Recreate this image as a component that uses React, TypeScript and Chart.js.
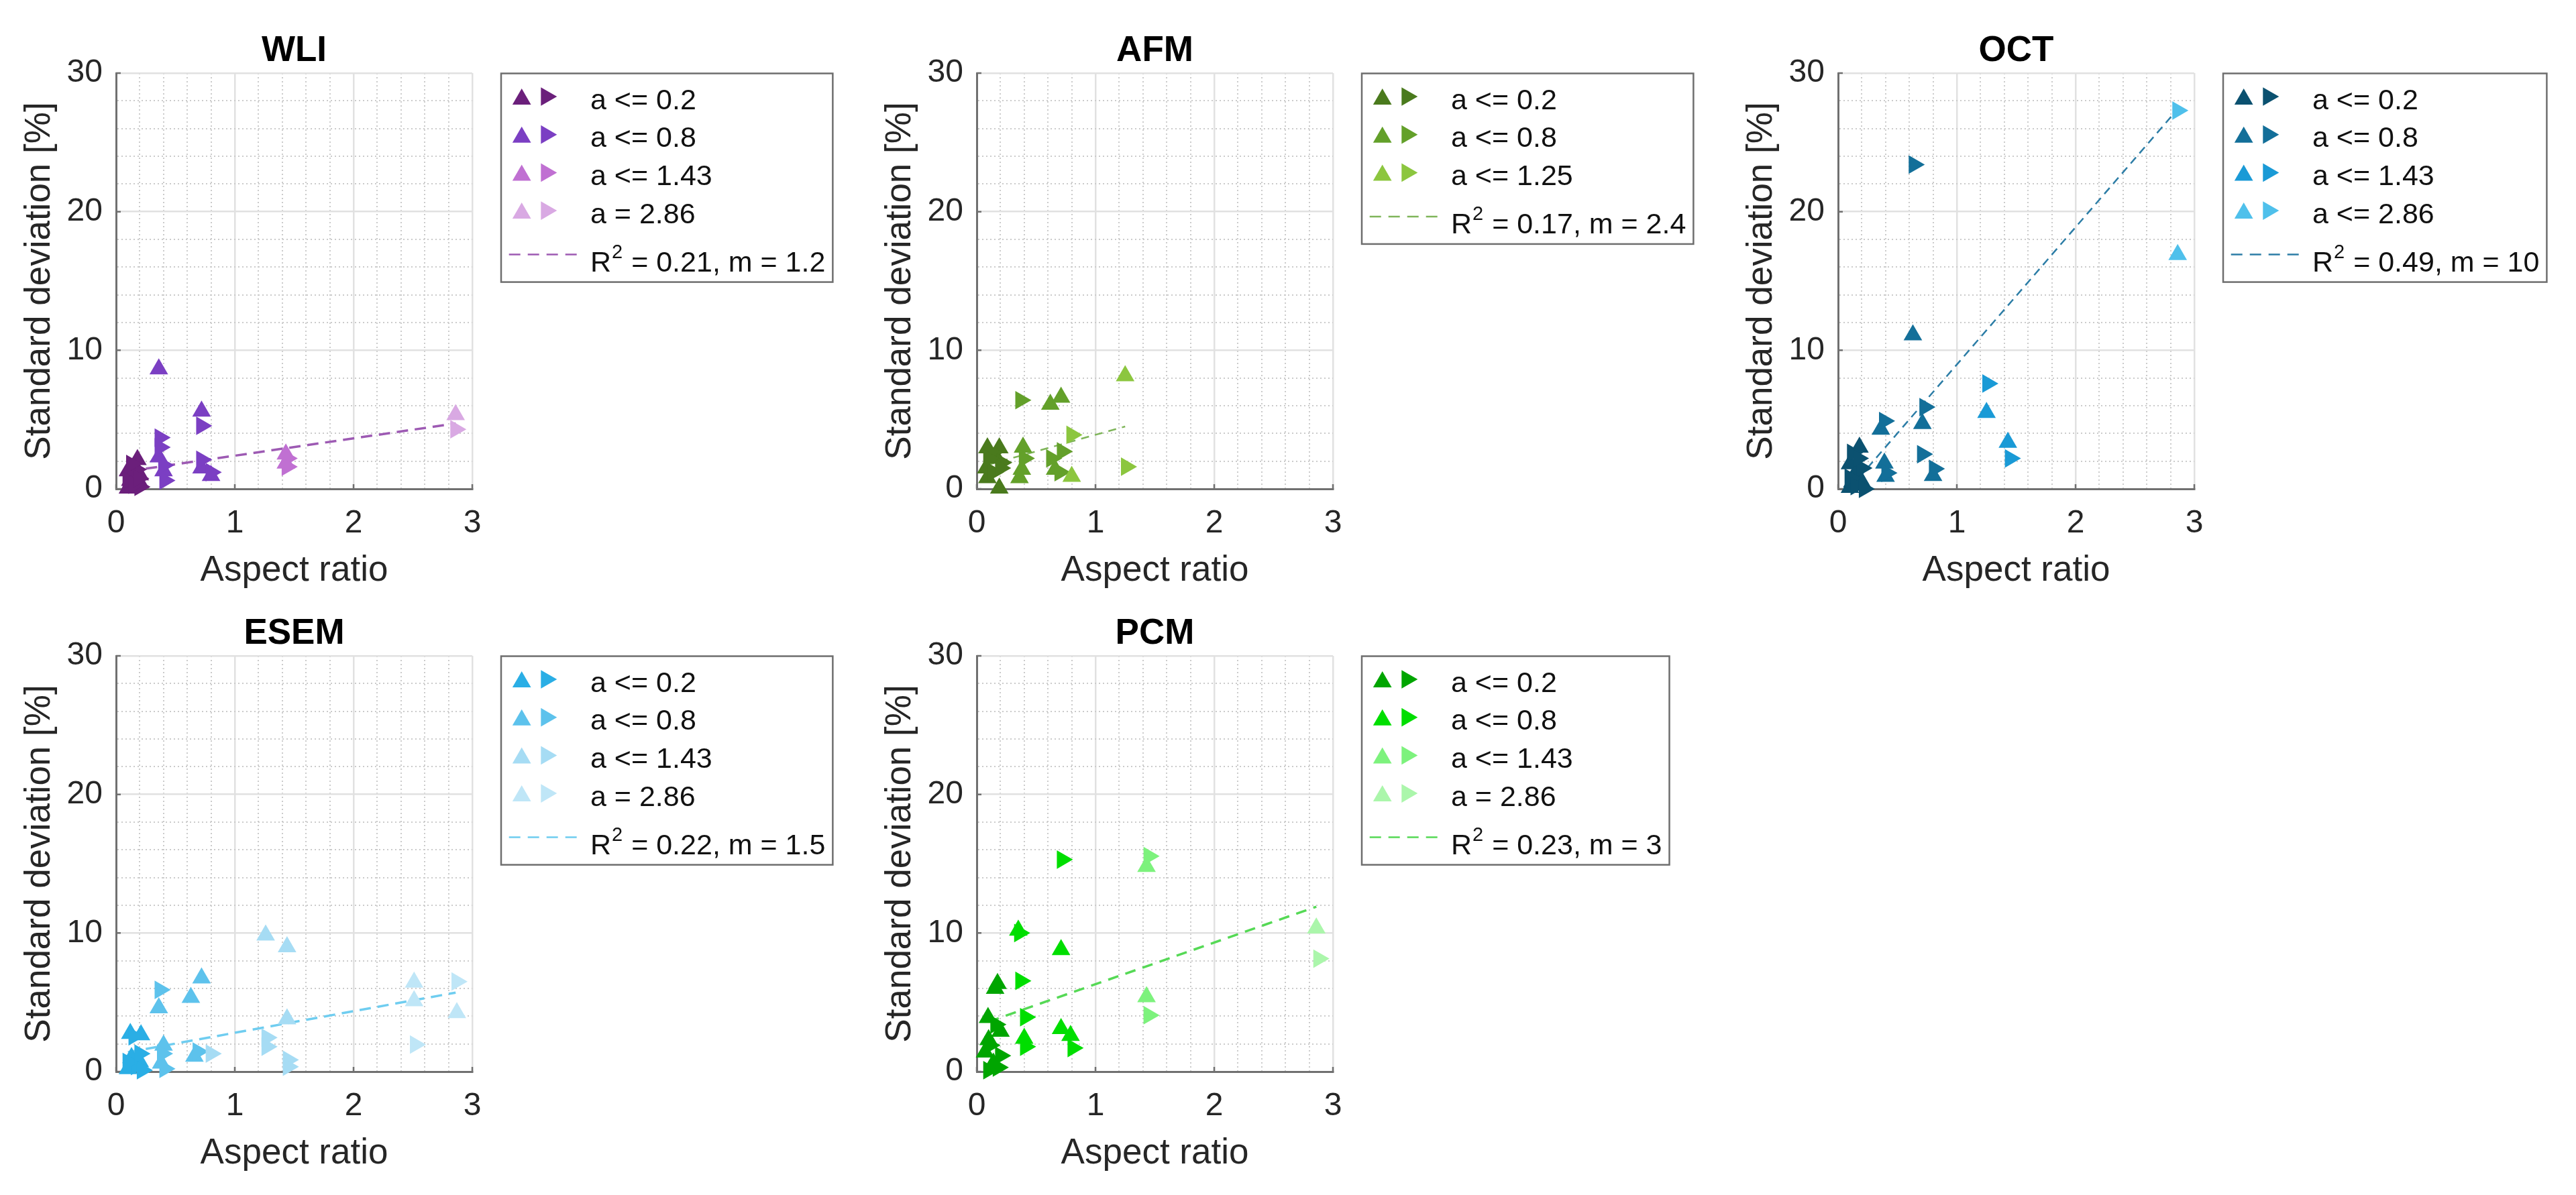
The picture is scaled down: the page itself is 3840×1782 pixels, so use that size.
import React, { useEffect, useRef } from 'react';
import { Chart, registerables } from 'chart.js';

Chart.register(...registerables);

type Pt = [number, number];

// ---------------- shared axis data ----------------
const X_MIN = 0;
const X_MAX = 3;
const X_STEP = 0.2;
const Y_MIN = 0;
const Y_MAX = 30;
const Y_STEP = 2;
const X_MAJOR_TICKS = [0, 1, 2, 3];
const Y_MAJOR_TICKS = [0, 10, 20, 30];
const X_LABEL = 'Aspect ratio';
const Y_LABEL = 'Standard deviation [%]';

// ---------------- WLI ----------------
const WLI_LABELS = ['a <= 0.2', 'a <= 0.8', 'a <= 1.43', 'a = 2.86'];
const WLI_A02_UP: Pt[] = [[0.18, 2.1], [0.15, 1.6], [0.10, 1.3], [0.20, 1.0], [0.12, 0.6], [0.17, 0.3], [0.10, 0.05], [0.20, 0.45], [0.14, 1.1]];
const WLI_A02_RIGHT: Pt[] = [[0.12, 1.0], [0.17, 1.4], [0.10, 0.6], [0.20, 0.15], [0.15, 0.3], [0.19, 0.75], [0.13, 1.8]];
const WLI_A08_UP: Pt[] = [[0.36, 8.65], [0.72, 5.6], [0.36, 2.3], [0.40, 1.3], [0.72, 1.5], [0.80, 0.95]];
const WLI_A08_RIGHT: Pt[] = [[0.72, 4.55], [0.37, 3.7], [0.37, 3.0], [0.41, 0.6], [0.72, 2.1], [0.80, 1.2], [0.40, 1.7]];
const WLI_A143_UP: Pt[] = [[1.43, 2.5], [1.43, 1.85]];
const WLI_A143_RIGHT: Pt[] = [[1.44, 2.2], [1.44, 1.6]];
const WLI_A286_UP: Pt[] = [[2.86, 5.35]];
const WLI_A286_RIGHT: Pt[] = [[2.86, 4.3]];
const WLI_FIT_X = [0.1, 2.86];
const WLI_FIT_Y = [1.27, 4.72];
const WLI_R2 = '0.21';
const WLI_M = '1.2';

// ---------------- AFM ----------------
const AFM_LABELS = ['a <= 0.2', 'a <= 0.8', 'a <= 1.25'];
const AFM_A02_UP: Pt[] = [[0.09, 2.95], [0.19, 2.95], [0.08, 1.5], [0.17, 2.2], [0.09, 0.8], [0.19, 0.05]];
const AFM_A02_RIGHT: Pt[] = [[0.13, 2.6], [0.21, 1.9], [0.14, 1.2], [0.20, 1.5], [0.10, 2.2]];
const AFM_A08_UP: Pt[] = [[0.62, 6.1], [0.71, 6.6], [0.39, 3.0], [0.38, 1.4], [0.36, 0.8], [0.66, 1.4]];
const AFM_A08_RIGHT: Pt[] = [[0.37, 6.4], [0.72, 2.7], [0.63, 2.2], [0.40, 2.2], [0.70, 1.2]];
const AFM_A125_UP: Pt[] = [[1.25, 8.15], [0.80, 0.9]];
const AFM_A125_RIGHT: Pt[] = [[1.26, 1.6], [0.80, 3.9]];
const AFM_FIT_X = [0.08, 1.25];
const AFM_FIT_Y = [1.7, 4.5];
const AFM_R2 = '0.17';
const AFM_M = '2.4';

// ---------------- OCT ----------------
const OCT_LABELS = ['a <= 0.2', 'a <= 0.8', 'a <= 1.43', 'a <= 2.86'];
const OCT_A02_UP: Pt[] = [[0.18, 3.0], [0.10, 1.8], [0.15, 1.2], [0.20, 0.5], [0.10, 0.1], [0.12, 0.5]];
const OCT_A02_RIGHT: Pt[] = [[0.12, 2.6], [0.20, 1.5], [0.10, 0.8], [0.15, 0.2], [0.22, 0.0], [0.17, 2.2]];
const OCT_A08_UP: Pt[] = [[0.63, 11.1], [0.71, 4.7], [0.36, 4.3], [0.39, 1.85], [0.80, 0.95], [0.40, 0.9]];
const OCT_A08_RIGHT: Pt[] = [[0.64, 23.4], [0.73, 5.9], [0.39, 4.9], [0.41, 1.15], [0.71, 2.5], [0.81, 1.45]];
const OCT_A143_UP: Pt[] = [[1.25, 5.5], [1.43, 3.35]];
const OCT_A143_RIGHT: Pt[] = [[1.26, 7.6], [1.45, 2.2]];
const OCT_A286_UP: Pt[] = [[2.86, 16.9]];
const OCT_A286_RIGHT: Pt[] = [[2.86, 27.3]];
const OCT_FIT_X = [0.1, 2.86];
const OCT_FIT_Y = [0.05, 27.4];
const OCT_R2 = '0.49';
const OCT_M = '10';

// ---------------- ESEM ----------------
const ESEM_LABELS = ['a <= 0.2', 'a <= 0.8', 'a <= 1.43', 'a = 2.86'];
const ESEM_A02_UP: Pt[] = [[0.12, 2.75], [0.21, 2.65], [0.13, 1.0], [0.20, 0.7], [0.10, 0.2]];
const ESEM_A02_RIGHT: Pt[] = [[0.15, 2.55], [0.17, 0.4], [0.22, 0.1], [0.10, 0.7], [0.20, 1.3]];
const ESEM_A08_UP: Pt[] = [[0.72, 6.75], [0.63, 5.35], [0.36, 4.6], [0.40, 1.9], [0.38, 0.6], [0.66, 1.1]];
const ESEM_A08_RIGHT: Pt[] = [[0.37, 5.9], [0.39, 1.3], [0.69, 1.45], [0.41, 0.2]];
const ESEM_A143_UP: Pt[] = [[1.26, 9.85], [1.44, 9.0], [1.44, 3.8]];
const ESEM_A143_RIGHT: Pt[] = [[1.27, 2.45], [1.27, 1.8], [1.45, 0.85], [1.45, 0.35], [0.80, 1.3]];
const ESEM_A286_UP: Pt[] = [[2.51, 6.45], [2.51, 5.1], [2.87, 4.25]];
const ESEM_A286_RIGHT: Pt[] = [[2.87, 6.5], [2.52, 1.95]];
const ESEM_FIT_X = [0.1, 2.86];
const ESEM_FIT_Y = [1.4, 5.7];
const ESEM_R2 = '0.22';
const ESEM_M = '1.5';

// ---------------- PCM ----------------
const PCM_LABELS = ['a <= 0.2', 'a <= 0.8', 'a <= 1.43', 'a = 2.86'];
const PCM_A02_UP: Pt[] = [[0.175, 6.35], [0.155, 6.0], [0.095, 3.9], [0.20, 2.9], [0.07, 1.4], [0.14, 0.6], [0.10, 2.3]];
const PCM_A02_RIGHT: Pt[] = [[0.16, 3.4], [0.20, 1.15], [0.11, 1.9], [0.18, 0.3], [0.10, 0.1]];
const PCM_A08_UP: Pt[] = [[0.35, 10.2], [0.71, 8.8], [0.40, 2.4], [0.71, 3.1], [0.79, 2.6]];
const PCM_A08_RIGHT: Pt[] = [[0.72, 15.3], [0.36, 10.0], [0.37, 6.55], [0.41, 3.93], [0.41, 1.8], [0.81, 1.7]];
const PCM_A143_UP: Pt[] = [[1.43, 14.8], [1.43, 5.4]];
const PCM_A143_RIGHT: Pt[] = [[1.45, 15.55], [1.45, 4.07]];
const PCM_A286_UP: Pt[] = [[2.86, 10.35]];
const PCM_A286_RIGHT: Pt[] = [[2.88, 8.15]];
const PCM_FIT_X = [0.1, 2.86];
const PCM_FIT_Y = [3.6, 11.9];
const PCM_R2 = '0.23';
const PCM_M = '3';

// ---------------- styles ----------------
const FONT = '"Liberation Sans", Arial, Helvetica, sans-serif';
const TICK_SIZE = 48;
const LABEL_SIZE = 53;
const TITLE_SIZE = 53;
const LEGEND_SIZE = 43;
const SUP_SIZE = 29;
const TEXT_COLOR = '#262626';
const LEGEND_TEXT = '#111111';
const AXIS_COLOR = '#707070';
const LEGEND_EDGE = '#6e6e6e';
const MAJOR_GRID = '#e1e1e1';
const MINOR_GRID = '#cbcbcb';
const MARKER_R = 16;

const CANVAS_W = 1270;
const CANVAS_H = 890;
const AXES_LEFT = 173;
const AXES_TOP = 109;
const AXES_W = 531;
const AXES_H = 620;
const COL_LEFTS = [0, 1283, 2567];
const ROW_TOPS = [0, 869];

interface Group { label: string; color: string; up: Pt[]; right: Pt[] }
interface Panel {
  title: string; col: number; row: number; groups: Group[];
  fitX: number[]; fitY: number[]; r2: string; m: string;
  fitColor: string; fitWidth: number; fitDash: number[];
}

const mkGroups = (labels: string[], colors: string[], ups: Pt[][], rights: Pt[][]): Group[] =>
  labels.map((label, i) => ({ label, color: colors[i], up: ups[i], right: rights[i] }));

const PANELS: Panel[] = [
  {
    title: 'WLI', col: 0, row: 0,
    groups: mkGroups(WLI_LABELS, ['#6b1f7b', '#7b3fc3', '#c070d2', '#d9a9e3'],
      [WLI_A02_UP, WLI_A08_UP, WLI_A143_UP, WLI_A286_UP],
      [WLI_A02_RIGHT, WLI_A08_RIGHT, WLI_A143_RIGHT, WLI_A286_RIGHT]),
    fitX: WLI_FIT_X, fitY: WLI_FIT_Y, r2: WLI_R2, m: WLI_M,
    fitColor: '#9d5ab3', fitWidth: 3.5, fitDash: [17, 10],
  },
  {
    title: 'AFM', col: 1, row: 0,
    groups: mkGroups(AFM_LABELS, ['#4a7a1d', '#63a02a', '#8cc63f'],
      [AFM_A02_UP, AFM_A08_UP, AFM_A125_UP],
      [AFM_A02_RIGHT, AFM_A08_RIGHT, AFM_A125_RIGHT]),
    fitX: AFM_FIT_X, fitY: AFM_FIT_Y, r2: AFM_R2, m: AFM_M,
    fitColor: '#7fb55a', fitWidth: 2.5, fitDash: [12, 9],
  },
  {
    title: 'OCT', col: 2, row: 0,
    groups: mkGroups(OCT_LABELS, ['#0b5170', '#136f99', '#1a9ad6', '#4fc0eb'],
      [OCT_A02_UP, OCT_A08_UP, OCT_A143_UP, OCT_A286_UP],
      [OCT_A02_RIGHT, OCT_A08_RIGHT, OCT_A143_RIGHT, OCT_A286_RIGHT]),
    fitX: OCT_FIT_X, fitY: OCT_FIT_Y, r2: OCT_R2, m: OCT_M,
    fitColor: '#2c7da6', fitWidth: 2.5, fitDash: [12, 8],
  },
  {
    title: 'ESEM', col: 0, row: 1,
    groups: mkGroups(ESEM_LABELS, ['#2aaee5', '#5dc2ec', '#a6dcf4', '#bfe6f7'],
      [ESEM_A02_UP, ESEM_A08_UP, ESEM_A143_UP, ESEM_A286_UP],
      [ESEM_A02_RIGHT, ESEM_A08_RIGHT, ESEM_A143_RIGHT, ESEM_A286_RIGHT]),
    fitX: ESEM_FIT_X, fitY: ESEM_FIT_Y, r2: ESEM_R2, m: ESEM_M,
    fitColor: '#6fcdf0', fitWidth: 3.5, fitDash: [17, 10],
  },
  {
    title: 'PCM', col: 1, row: 1,
    groups: mkGroups(PCM_LABELS, ['#00a500', '#00de00', '#7df27d', '#abf6ab'],
      [PCM_A02_UP, PCM_A08_UP, PCM_A143_UP, PCM_A286_UP],
      [PCM_A02_RIGHT, PCM_A08_RIGHT, PCM_A143_RIGHT, PCM_A286_RIGHT]),
    fitX: PCM_FIT_X, fitY: PCM_FIT_Y, r2: PCM_R2, m: PCM_M,
    fitColor: '#55d955', fitWidth: 3.5, fitDash: [16, 11],
  },
];

const isMajorX = (v: number) => Math.abs(v - Math.round(v)) < 1e-6;
const isMajorY = (v: number) => Math.abs(v / 10 - Math.round(v / 10)) < 1e-6;

function drawTriangle(ctx: CanvasRenderingContext2D, x: number, y: number, r: number, rotDeg: number, color: string) {
  let rad = (rotDeg * Math.PI) / 180;
  ctx.beginPath();
  for (let k = 0; k < 3; k++) {
    const px = x + Math.sin(rad) * r;
    const py = y - Math.cos(rad) * r;
    if (k === 0) ctx.moveTo(px, py); else ctx.lineTo(px, py);
    rad += (2 * Math.PI) / 3;
  }
  ctx.closePath();
  ctx.fillStyle = color;
  ctx.fill();
}

function makeDecorPlugin(panel: Panel) {
  return {
    id: 'panelDecor',
    beforeDatasetsDraw(chart: any) {
      const { ctx, chartArea: ca, scales } = chart;
      ctx.save();
      ctx.strokeStyle = AXIS_COLOR;
      ctx.lineWidth = 2.5;
      ctx.beginPath();
      X_MAJOR_TICKS.forEach((v) => {
        const px = scales.x.getPixelForValue(v);
        ctx.moveTo(px, ca.bottom);
        ctx.lineTo(px, ca.bottom - 7);
      });
      Y_MAJOR_TICKS.forEach((v) => {
        const py = scales.y.getPixelForValue(v);
        ctx.moveTo(ca.left, py);
        ctx.lineTo(ca.left + 7, py);
      });
      ctx.stroke();
      ctx.restore();
    },
    afterDraw(chart: any) {
      const { ctx, chartArea: ca } = chart;
      ctx.save();
      // title
      ctx.fillStyle = '#000';
      ctx.font = `bold ${TITLE_SIZE}px ${FONT}`;
      ctx.textAlign = 'center';
      ctx.textBaseline = 'alphabetic';
      ctx.fillText(panel.title, (ca.left + ca.right) / 2, ca.top - 18);

      // legend
      const mainFont = `${LEGEND_SIZE}px ${FONT}`;
      const supFont = `${SUP_SIZE}px ${FONT}`;
      const bx = ca.left + 574;
      const by = ca.top + 0.5;
      const n = panel.groups.length;
      const rowBase = (i: number) => by + 53 + i * 56.7;
      const fitBase = rowBase(n - 1) + 72;
      ctx.font = mainFont;
      const wR = ctx.measureText('R').width;
      const rest = ` = ${panel.r2}, m = ${panel.m}`;
      const wRest = ctx.measureText(rest).width;
      ctx.font = supFont;
      const wSup = ctx.measureText('2').width;
      const textX = bx + 133;
      const textW = wR + 2 + wSup + wRest;
      const bw = 133 + textW + 11;
      const bh = fitBase + 16 - by;
      ctx.fillStyle = '#ffffff';
      ctx.fillRect(bx, by, bw, bh);
      ctx.strokeStyle = LEGEND_EDGE;
      ctx.lineWidth = 2.5;
      ctx.strokeRect(bx, by, bw, bh);

      ctx.textAlign = 'left';
      ctx.textBaseline = 'alphabetic';
      panel.groups.forEach((g, i) => {
        const base = rowBase(i);
        drawTriangle(ctx, bx + 30.7, base - 14.5, MARKER_R, 0, g.color);
        drawTriangle(ctx, bx + 67.3, base - 18.5, MARKER_R, 90, g.color);
        ctx.fillStyle = LEGEND_TEXT;
        ctx.font = mainFont;
        ctx.fillText(g.label, textX, base);
      });
      ctx.strokeStyle = panel.fitColor;
      ctx.lineWidth = 2.5;
      ctx.setLineDash([17, 11]);
      ctx.beginPath();
      ctx.moveTo(bx + 11.7, fitBase - 25);
      ctx.lineTo(bx + 115.7, fitBase - 25);
      ctx.stroke();
      ctx.setLineDash([]);
      ctx.fillStyle = LEGEND_TEXT;
      ctx.font = mainFont;
      ctx.fillText('R', textX, fitBase);
      ctx.font = supFont;
      ctx.fillText('2', textX + wR + 1, fitBase - 20);
      ctx.font = mainFont;
      ctx.fillText(rest, textX + wR + 2 + wSup, fitBase);
      ctx.restore();
    },
  };
}

function PanelChart({ panel }: { panel: Panel }) {
  const ref = useRef<HTMLCanvasElement>(null);
  useEffect(() => {
    const canvas = ref.current;
    if (!canvas) return;
    const datasets: any[] = [
      {
        data: panel.fitX.map((x, i) => ({ x, y: panel.fitY[i] })),
        showLine: true,
        borderColor: panel.fitColor,
        borderWidth: panel.fitWidth,
        borderDash: panel.fitDash,
        pointRadius: 0,
        fill: false,
        order: 100,
        clip: false,
      },
    ];
    panel.groups.forEach((g, gi) => {
      datasets.push({
        data: g.up.map(([x, y]) => ({ x, y })),
        pointStyle: 'triangle',
        pointRotation: 0,
        pointRadius: MARKER_R,
        pointBackgroundColor: g.color,
        pointBorderColor: g.color,
        pointBorderWidth: 0,
        backgroundColor: g.color,
        borderColor: g.color,
        showLine: false,
        order: 50 - gi * 2,
        clip: false,
      });
      datasets.push({
        data: g.right.map(([x, y]) => ({ x, y })),
        pointStyle: 'triangle',
        pointRotation: 90,
        pointRadius: MARKER_R,
        pointBackgroundColor: g.color,
        pointBorderColor: g.color,
        pointBorderWidth: 0,
        backgroundColor: g.color,
        borderColor: g.color,
        showLine: false,
        order: 49 - gi * 2,
        clip: false,
      });
    });

    const gridColor = (isMajor: (v: number) => boolean) => (c: any) =>
      c.tick && !isMajor(c.tick.value) ? MINOR_GRID : MAJOR_GRID;
    const gridWidth = (isMajor: (v: number) => boolean) => (c: any) =>
      c.tick && !isMajor(c.tick.value) ? 2 : 2.5;
    const gridDash = (isMajor: (v: number) => boolean) => (c: any) =>
      c.tick && !isMajor(c.tick.value) ? [2, 4] : [];

    const chart = new Chart(canvas, {
      type: 'scatter',
      data: { datasets },
      options: {
        responsive: false,
        animation: false,
        events: [],
        layout: {
          padding: { left: 0, top: AXES_TOP, right: CANVAS_W - AXES_LEFT - AXES_W, bottom: 0 },
        },
        plugins: {
          legend: { display: false },
          tooltip: { enabled: false },
          title: { display: false },
        },
        scales: {
          x: {
            type: 'linear',
            min: X_MIN,
            max: X_MAX,
            afterFit: (s: any) => {
              s.height = CANVAS_H - AXES_TOP - AXES_H;
              s.paddingLeft = 0;
              s.paddingRight = 0;
              s.paddingTop = 0;
              s.paddingBottom = 0;
            },
            ticks: {
              stepSize: X_STEP,
              autoSkip: false,
              maxRotation: 0,
              minRotation: 0,
              padding: 23,
              color: TEXT_COLOR,
              font: { family: FONT, size: TICK_SIZE },
              callback: (v: any) => (isMajorX(Number(v)) ? String(Math.round(Number(v))) : ''),
            },
            grid: {
              color: gridColor(isMajorX),
              lineWidth: gridWidth(isMajorX),
              drawTicks: false,
            },
            border: {
              display: true,
              color: AXIS_COLOR,
              width: 3,
              dash: gridDash(isMajorX),
            },
            title: {
              display: true,
              text: X_LABEL,
              color: TEXT_COLOR,
              font: { family: FONT, size: LABEL_SIZE },
              padding: { top: 0, bottom: 7 },
            },
          },
          y: {
            type: 'linear',
            min: Y_MIN,
            max: Y_MAX,
            afterFit: (s: any) => {
              s.width = AXES_LEFT;
              s.paddingLeft = 0;
              s.paddingRight = 0;
              s.paddingTop = 0;
              s.paddingBottom = 0;
            },
            ticks: {
              stepSize: Y_STEP,
              autoSkip: false,
              padding: 20,
              color: TEXT_COLOR,
              font: { family: FONT, size: TICK_SIZE },
              callback: (v: any) => (isMajorY(Number(v)) ? String(Math.round(Number(v))) : ''),
            },
            grid: {
              color: gridColor(isMajorY),
              lineWidth: gridWidth(isMajorY),
              drawTicks: false,
            },
            border: {
              display: true,
              color: AXIS_COLOR,
              width: 3,
              dash: gridDash(isMajorY),
            },
            title: {
              display: true,
              text: Y_LABEL,
              color: TEXT_COLOR,
              font: { family: FONT, size: LABEL_SIZE },
              padding: { top: 28, bottom: 0 },
            },
          },
        },
      } as any,
      plugins: [makeDecorPlugin(panel) as any],
    });
    return () => chart.destroy();
  }, [panel]);

  return (
    <canvas
      ref={ref}
      width={CANVAS_W}
      height={CANVAS_H}
      style={{
        position: 'absolute',
        left: COL_LEFTS[panel.col],
        top: ROW_TOPS[panel.row],
        width: CANVAS_W,
        height: CANVAS_H,
      }}
    />
  );
}

export default function App() {
  return (
    <div
      style={{
        position: 'fixed',
        left: 0,
        top: 0,
        width: 3840,
        height: 1782,
        background: '#ffffff',
        overflow: 'hidden',
      }}
    >
      {PANELS.map((p) => (
        <PanelChart key={p.title} panel={p} />
      ))}
    </div>
  );
}
